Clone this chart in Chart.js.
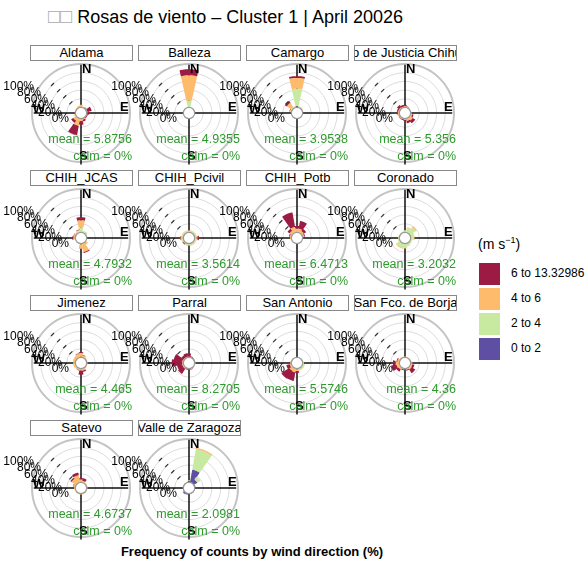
<!DOCTYPE html>
<html>
<head>
<meta charset="utf-8">
<script src="https://cdn.jsdelivr.net/npm/chart.js@4.4.1/dist/chart.umd.min.js"></script>
<style>
body{margin:0;background:#fff;font-family:"Liberation Sans",Arial,sans-serif;}
#wrap{position:relative;width:588px;height:563px;overflow:hidden;}
#title{position:absolute;left:48px;top:5px;font-size:18px;color:#000;white-space:nowrap;}
#title span{color:#aaa;font-size:20px;}
.strip{position:absolute;width:101px;height:14px;border:1px solid #888;background:#fff;overflow:hidden;white-space:nowrap;display:flex;justify-content:center;font-size:13px;line-height:14px;}
.rose{position:absolute;}
#legtitle{position:absolute;left:478px;top:235px;font-size:14px;}
.lbox{position:absolute;left:479px;width:21px;height:22px;}
.ltxt{position:absolute;left:511px;font-size:12px;}
#caption{position:absolute;left:0;width:504px;top:544px;text-align:center;font-size:13px;font-weight:bold;}
</style>
</head>
<body>
<div id="wrap">
  <div id="title"><span>□□</span> Rosas de viento – Cluster 1 | April 20026</div>
  <div id="legtitle">(m s<sup style="font-size:9px">−1</sup>)</div>
  <div id="caption">Frequency of counts by wind direction (%)</div>
</div>
<script>
// stations, in panel order
const stations = ['Aldama','Balleza','Camargo','Centro de Justicia Chihuahua','CHIH_JCAS','CHIH_Pcivil','CHIH_Potb','Coronado',
  'Jimenez','Parral','San Antonio','San Fco. de Borja','Satevo','Valle de Zaragoza'];
const means = ['5.8756','4.9355','3.9538','5.356','4.7932','3.5614','6.4713','3.2032','4.465','8.2705','5.5746','4.36','4.6737','2.0981'];
const calms = ['0%','0%','0%','0%','0%','0%','0%','0%','0%','0%','0%','0%','0%','0%'];

// wind directions (deg), 16 sectors
const dirs = [0,22.5,45,67.5,90,112.5,135,157.5,180,202.5,225,247.5,270,292.5,315,337.5];

// speed bins + colours
const binLabels = ['0 to 2','2 to 4','4 to 6','6 to 13.32986'];
const binColors = ['#5E4FA2','#C7E9A0','#FDBB6B','#9C1B42'];

// ring labels
const ringPct = [0,20,40,60,80,100];
const calmOffset = 13;

// % of counts per direction, one row per speed bin (0-2, 2-4, 4-6, 6+)
const aldama = [
  [0,0,0,0,0,0,0,0,0,0,0,0,0,0,0,0],
  [0,0,0,0,0,0,0,0,0,1,0,0,0,0,0,0],
  [6,2,2,2,2,1,1,3,6,16,8,3,1,1,2,4],
  [0,0,1,10,4,2,2,4,8,22,6,0,0,0,0,0]];
const balleza = [
  [0,0,0,0,0,0,0,0,0,0,0,0,0,0,0,0],
  [16,0,0,0,0,0,0,0,0,0,0,0,0,0,0,1],
  [58,0,0,0,0,0,0,0,0,0,0,0,0,0,0,0],
  [14,0,0,0,0,0,0,0,0,0,0,0,0,0,0,0]];
const camargo = [
  [3,0,0,0,0,0,0,0,0,0,0,0,0,0,0,0],
  [40,3,2,0,0,0,0,0,1,0,0,0,0,2,3,2],
  [25,0,1,0,0,0,0,0,0,0,0,0,0,2,12,1],
  [4,0,0,0,0,0,0,0,0,0,0,0,0,1,5,0]];
const justicia = [
  [0,0,0,0,0,0,0,0,0,0,0,0,0,0,0,0],
  [1,1,1,1,1,0,0,0,0,0,1,0,0,0,0,0],
  [2,1,0,0,1,4,8,6,3,2,2,2,4,3,3,2],
  [3,1,0,0,0,3,7,5,2,2,1,1,2,3,6,4]];
const jcas = [
  [0,0,0,0,0,0,0,0,0,0,0,0,0,0,0,0],
  [12,3,5,1,1,1,1,2,2,1,1,1,1,1,3,4],
  [16,1,0,0,0,0,5,18,10,0,0,0,4,3,1,2],
  [7,0,0,0,0,0,0,2,0,0,0,0,2,1,0,1]];
const pcivil = [
  [1,1,1,1,1,1,1,1,1,1,0,1,1,1,1,1],
  [3,3,3,3,3,3,3,3,3,3,1,3,2,3,3,3],
  [1,1,1,1,3,1,1,1,1,1,2,1,4,1,1,1],
  [0,0,0,0,3,0,0,0,0,0,2,0,1,0,0,0]];
const potb = [
  [0,0,0,0,0,0,0,0,0,0,0,0,0,0,0,0],
  [1,1,1,0,0,0,0,0,0,0,0,0,0,0,1,1],
  [8,8,5,4,1,0,0,0,0,0,0,1,3,4,6,12],
  [6,18,6,2,0,0,0,0,0,0,0,0,0,2,6,34]];
const coronado = [
  [0,0,0,0,0,0,0,0,0,0,0,0,0,0,0,0],
  [5,10,16,8,8,4,5,6,10,10,10,4,3,2,2,3],
  [0,2,3,1,1,0,0,1,1,2,2,0,0,0,0,0],
  [0,0,0,0,0,0,0,0,0,0,0,0,0,0,0,0]];
const jimenez = [
  [0,0,0,0,0,0,0,0,0,0,0,0,0,0,0,0],
  [2,1,1,1,1,1,1,1,1,1,2,2,1,1,1,1],
  [8,4,2,1,1,1,2,4,4,3,2,3,4,5,6,8],
  [2,1,0,0,0,0,0,3,9,1,0,0,0,0,0,1]];
const parral = [
  [0,0,0,0,0,0,0,0,0,0,0,0,0,0,0,0],
  [0,0,0,1,1,1,1,1,1,0,0,0,0,0,0,0],
  [2,1,1,1,1,0,1,1,1,1,3,3,3,3,2,2],
  [7,2,1,0,0,0,0,1,1,2,14,12,24,20,6,8]];
const sanAntonio = [
  [0,0,0,0,0,0,0,0,0,0,0,0,0,0,0,0],
  [1,1,1,2,3,4,4,3,2,1,1,1,1,1,1,1],
  [0,0,0,0,0,1,1,2,4,8,7,3,2,0,0,0],
  [0,0,0,0,0,0,0,0,4,20,22,8,1,0,0,0]];
const sanFco = [
  [0,0,0,0,0,0,0,0,0,0,0,0,0,0,0,0],
  [1,1,1,1,2,1,1,1,1,1,1,1,1,1,1,1],
  [1,0,0,1,2,3,4,2,1,1,4,6,8,4,2,1],
  [0,0,0,0,0,5,10,2,1,2,6,12,6,2,0,0]];
const satevo = [
  [0,0,0,0,0,0,0,0,0,0,0,0,0,0,0,0],
  [1,1,1,1,1,1,1,1,1,1,1,1,1,1,1,1],
  [6,3,1,1,1,1,1,1,1,1,1,1,2,4,12,16],
  [3,6,0,0,0,0,0,0,0,0,0,0,0,1,3,6]];
const valle = [
  [3,30,10,2,1,1,1,1,1,3,4,1,1,1,1,1],
  [2,48,8,1,0,0,0,0,0,0,1,0,0,0,0,0],
  [0,3,0,0,0,0,0,0,0,0,0,0,0,0,0,0],
  [0,0,0,0,0,0,0,0,0,0,0,0,0,0,0,0]];

const roses = [aldama,balleza,camargo,justicia,jcas,pcivil,potb,coronado,jimenez,parral,sanAntonio,sanFco,satevo,valle];

const wrap = document.getElementById('wrap');
const R = 49;           // outer ring radius in px
const maxR = 100 + calmOffset;

//legend
binLabels.slice().reverse().forEach((lab, i) => {
  const b = document.createElement('div');
  b.className = 'lbox';
  b.style.top = (263 + i * 25) + 'px';
  b.style.background = binColors[binLabels.length - 1 - i];
  wrap.appendChild(b);
  const t = document.createElement('div');
  t.className = 'ltxt';
  t.style.top = (266 + i * 25) + 'px';
  t.textContent = lab;
  wrap.appendChild(t);
});

// plugin that draws one wind rose through the chart's x/y scales
function rosePlugin(k) {
  return {
    id: 'rose' + k,
    afterDraw(chart) {
      const ctx = chart.ctx, sx = chart.scales.x, sy = chart.scales.y;
      const rad = a => a * Math.PI / 180;
      const P = (r, a) => [sx.getPixelForValue(r * Math.sin(rad(a))), sy.getPixelForValue(r * Math.cos(rad(a)))];
      const [cx, cy] = P(0, 0);
      const pxr = r => Math.abs(sx.getPixelForValue(r) - sx.getPixelForValue(0));
      ctx.save();

      // rings
      ringPct.forEach(p => {
        if (p === 0) return;
        ctx.beginPath();
        ctx.arc(cx, cy, pxr(p + calmOffset), 0, Math.PI * 2);
        ctx.strokeStyle = p === 100 ? '#c4c4c4' : '#dcdcdc';
        ctx.lineWidth = p === 100 ? 2 : 1;
        ctx.stroke();
      });

      // axes
      ctx.strokeStyle = '#111';
      ctx.lineWidth = 1.5;
      ctx.beginPath();
      let a = P(maxR - 2, 0), b = P(maxR + 6, 180);
      ctx.moveTo(a[0], a[1]); ctx.lineTo(b[0], b[1]);
      a = P(maxR - 4, 270); b = P(maxR - 4, 90);
      ctx.moveTo(a[0], a[1]); ctx.lineTo(b[0], b[1]);
      ctx.stroke();

      // wedges
      const data = roses[k];
      const half = 12.5;
      dirs.forEach((d, j) => {
        let inner = calmOffset;
        for (let bi = 0; bi < data.length; bi++) {
          const v = data[bi][j];
          if (!v) continue;
          const outer = inner + v;
          ctx.beginPath();
          for (let s = 0; s <= 12; s++) {
            const p = P(outer, d - half + s * 2 * half / 12);
            s === 0 ? ctx.moveTo(p[0], p[1]) : ctx.lineTo(p[0], p[1]);
          }
          for (let s = 12; s >= 0; s--) {
            const p = P(inner, d - half + s * 2 * half / 12);
            ctx.lineTo(p[0], p[1]);
          }
          ctx.closePath();
          ctx.fillStyle = binColors[bi];
          ctx.fill();
          inner = outer;
        }
      });

      // calm circle
      ctx.beginPath();
      ctx.arc(cx, cy, pxr(calmOffset), 0, Math.PI * 2);
      ctx.fillStyle = '#fff';
      ctx.fill();
      ctx.strokeStyle = '#999';
      ctx.lineWidth = 1.2;
      ctx.stroke();

      // ticks along the NW scale line
      ctx.strokeStyle = '#333';
      ctx.lineWidth = 1.2;
      ringPct.slice(1, 5).forEach(p => {
        const m = P(p + calmOffset, 315);
        ctx.beginPath();
        ctx.moveTo(m[0] - 1.5, m[1] + 1.5);
        ctx.lineTo(m[0] + 1.5, m[1] - 1.5);
        ctx.stroke();
      });

      // N E S W
      ctx.fillStyle = '#000';
      ctx.font = 'bold 13px "Liberation Sans", Arial';
      ctx.textBaseline = 'middle';
      ctx.textAlign = 'left';
      ctx.fillText('N', cx + 1, cy - 44);
      ctx.fillText('E', cx + 39, cy - 6);
      ctx.fillText('S', cx - 2, cy + 43);
      ctx.textAlign = 'right';
      ctx.fillText('W', cx - 36, cy - 4);

      // percent labels
      ctx.font = '12px "Liberation Sans", Arial';
      ringPct.forEach((p, i) => {
        ctx.fillText(p + '%', cx - 12 - 7 * i, cy + 6 - 6.5 * i);
      });

      // mean / calm
      ctx.fillStyle = '#2E9A2E';
      ctx.font = '12.5px "Liberation Sans", Arial';
      ctx.fillText('mean = ' + means[k], cx + 51, cy + 27);
      ctx.fillText('calm = ' + calms[k], cx + 51, cy + 44);
      ctx.restore();
    }
  };
}

stations.forEach((name, k) => {
  const col = k % 4, row = Math.floor(k / 4);
  const sxp = 30 + 108 * col, syp = 45 + 125 * row;
  const cx = sxp + 51, cy = syp + 68;

  const strip = document.createElement('div');
  strip.className = 'strip';
  strip.style.left = sxp + 'px';
  strip.style.top = syp + 'px';
  strip.innerHTML = '<span>' + name + '</span>';
  wrap.appendChild(strip);

  const cv = document.createElement('canvas');
  cv.className = 'rose';
  cv.width = 140; cv.height = 120;
  cv.style.left = (cx - 80) + 'px';
  cv.style.top = (cy - 60) + 'px';
  wrap.appendChild(cv);

  new Chart(cv, {
    type: 'scatter',
    data: { datasets: [] },
    options: {
      responsive: false,
      animation: false,
      devicePixelRatio: 1,
      layout: { padding: { left: 80 - R, right: 140 - 80 - R, top: 60 - R, bottom: 120 - 60 - R } },
      scales: {
        x: { type: 'linear', min: -maxR, max: maxR, display: false },
        y: { type: 'linear', min: -maxR, max: maxR, display: false }
      },
      plugins: { legend: { display: false }, tooltip: { enabled: false } }
    },
    plugins: [rosePlugin(k)]
  });
});
</script>
</body>
</html>
